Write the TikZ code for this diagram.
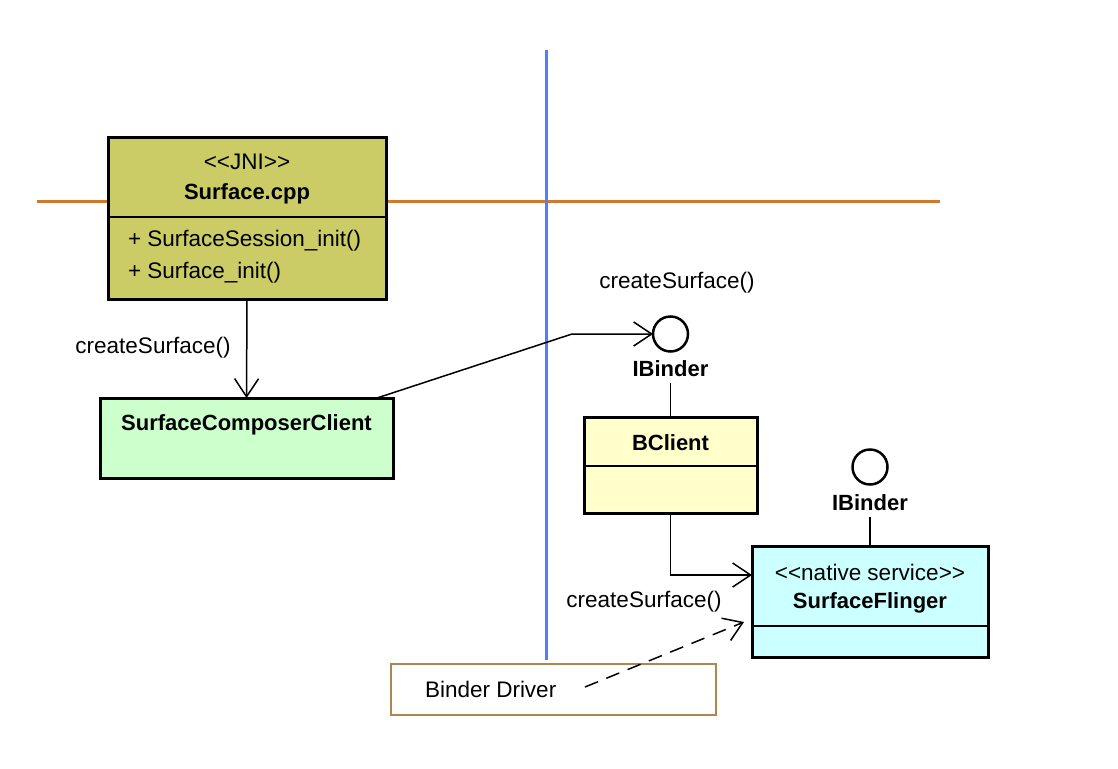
\documentclass[tikz,border=0pt]{standalone}
\usepackage{fontspec}
\setmainfont{Liberation Sans}
\usetikzlibrary{arrows.meta,calc}
\definecolor{jnifill}{HTML}{CCCC66}
\definecolor{sccfill}{HTML}{CCFFCC}
\definecolor{bcfill}{HTML}{FFFFCC}
\definecolor{sffill}{HTML}{CCFFFF}
\definecolor{orangeline}{HTML}{D2772E}
\definecolor{blueline}{HTML}{4C80FF}
\definecolor{bdborder}{HTML}{B08550}
\newcommand{\lguil}{<\kern0pt<\kern0pt}
\newcommand{\rguil}{\kern0pt>\kern0pt>}
\begin{document}
\begin{tikzpicture}[x=1pt,y=-1pt,
  every node/.style={font=\fontsize{22.5}{26}\selectfont, inner sep=0pt, outer sep=0pt},
  clsbox/.style={draw=black, line width=3pt, anchor=north west, rectangle},
  divider/.style={draw=black, line width=1.5pt},
  conn/.style={draw=black, line width=1.5pt},
  opentip/.style={-{Straight Barb[length=18pt,width=24pt]}},
  lolli/.style={circle, draw=black, line width=2.5pt, minimum size=35pt, fill=white},
  boldtxt/.style={font=\bfseries\fontsize{22}{26}\selectfont},
  plaintxt/.style={font=\fontsize{22.5}{26}\selectfont}
]
\useasboundingbox[fill=white] (0,0) rectangle (1118,768);

% separator lines
\coordinate (oL) at (37,201);
\coordinate (oR) at (940,201);
\coordinate (bT) at (546,50);
\coordinate (bB) at (546,660);
\draw[orangeline, line width=3pt] (oL) -- (oR);
\draw[blueline, line width=3pt] (bT) -- (bB);

% Surface.cpp
\node[clsbox, fill=jnifill, minimum width=278pt, minimum height=162pt] (surf) at (108,137) {};
\draw[divider] ($(surf.north west)+(0,80)$) -- ($(surf.north east)+(0,80)$);
\node[plaintxt] (jni) at (247,162) {\lguil JNI\rguil};
\node[boldtxt] (surfname) at (247,194) {Surface.cpp};
\node[plaintxt, anchor=west] (m1) at (128,241) {+ SurfaceSession\_init()};
\node[plaintxt, anchor=west] (m2) at (128,273) {+ Surface\_init()};

% SurfaceComposerClient
\node[clsbox, fill=sccfill, minimum width=293pt, minimum height=80pt] (scc) at (100,398) {};
\node[boldtxt] (sccname) at (246.5,425) {SurfaceComposerClient};

% BClient
\node[clsbox, fill=bcfill, minimum width=173pt, minimum height=96pt] (bc) at (584,417) {};
\draw[divider] ($(bc.north west)+(0,49)$) -- ($(bc.north east)+(0,49)$);
\node[boldtxt] (bcname) at (670.5,443) {BClient};

% SurfaceFlinger
\node[clsbox, fill=sffill, minimum width=236pt, minimum height=111pt] (sf) at (752,546) {};
\draw[divider] ($(sf.north west)+(0,80)$) -- ($(sf.north east)+(0,80)$);
\node[plaintxt] (sfst) at (870,572) {\lguil native service\rguil};
\node[boldtxt] (sfname) at (870,603) {SurfaceFlinger};

% Binder Driver
\node[draw=bdborder, line width=2pt, anchor=north west, minimum width=325pt, minimum height=51pt] (bd) at (391,664) {};
\node[plaintxt, anchor=west] (bdtxt) at (425,689) {Binder Driver};

% lollipops
\node[lolli] (c1) at (670.5,334) {};
\node[boldtxt] (lb1) at (670.5,369) {IBinder};
\node[lolli] (c2) at (870,467) {};
\node[boldtxt] (lb2) at (870,503) {IBinder};
\draw[conn] ($(lb1.south)+(0,6)$) -- (bc.north);
\draw[conn] ($(lb2.south)+(0,6)$) -- (sf.north);

% connectors
\draw[conn, opentip] (surf.south) -- (scc.north);
\coordinate (bend1) at (572,334);
\draw[conn, opentip] ($(scc.north east)+(-16,0)$) -- (bend1) -- (c1.west);
\coordinate (sfin) at ($(sf.north west)+(0,29)$);
\draw[conn, opentip] (bc.south) |- (sfin);
\coordinate (dstart) at ($(bd.north west)+(194,23)$);
\coordinate (dtip) at ($(sf.north west)+(-8,76)$);
\draw[conn, opentip, dash pattern=on 14pt off 9pt] (dstart) -- (dtip);

% labels
\node[plaintxt] (lbl1) at (153,348) {createSurface()};
\node[plaintxt] (lbl2) at (677,283) {createSurface()};
\node[plaintxt] (lbl3) at (644,602) {createSurface()};
\end{tikzpicture}
\end{document}
